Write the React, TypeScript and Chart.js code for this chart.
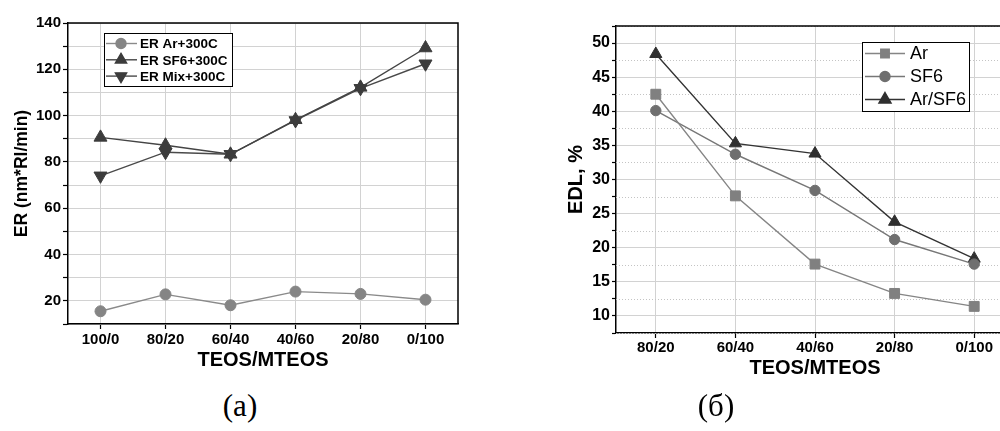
import React, { useEffect, useRef } from 'react';
import { Chart, registerables } from 'chart.js';
import { drawPoint } from 'chart.js/helpers';

Chart.register(...registerables);

// ---------- data ----------
const leftCategories = ['100/0', '80/20', '60/40', '40/60', '20/80', '0/100'];
const erAr = [15.5, 22.8, 18.1, 24.0, 23.0, 20.5];
const erSF6 = [90.6, 87.2, 83.3, 98.2, 112.2, 129.2];
const erMix = [74.0, 84.2, 83.3, 97.9, 111.8, 122.4];
const leftLabels = ['ER Ar+300C', 'ER SF6+300C', 'ER Mix+300C'];

const rightCategories = ['80/20', '60/40', '40/60', '20/80', '0/100'];
const edlAr = [42.5, 27.6, 17.6, 13.3, 11.4];
const edlSF6 = [40.1, 33.7, 28.4, 21.2, 17.6];
const edlArSF6 = [48.4, 35.3, 33.8, 23.8, 18.4];
const rightLabels = ['Ar', 'SF6', 'Ar/SF6'];

const xTitle = 'TEOS/MTEOS';
const leftYTitle = 'ER (nm*Rl/min)';
const rightYTitle = 'EDL, %';
const captions = ['(a)', '(б)'];

const SANS = "'Liberation Sans', Arial, Helvetica, sans-serif";

// ---------- plugins ----------
const framePlugin = {
  id: 'frame',
  afterDatasetsDraw(chart: any, _a: any, o: any) {
    const { ctx, chartArea } = chart;
    ctx.save();
    ctx.strokeStyle = '#000';
    ctx.lineWidth = o.width || 1.5;
    ctx.beginPath();
    ctx.moveTo(chartArea.left, chartArea.top);
    ctx.lineTo(chartArea.right, chartArea.top);
    ctx.lineTo(chartArea.right, chartArea.bottom);
    ctx.stroke();
    ctx.restore();
  },
};

const minorGridPlugin = {
  id: 'minorGrid',
  beforeDatasetsDraw(chart: any, _a: any, o: any) {
    if (!o || !o.enabled) return;
    const { ctx, chartArea } = chart;
    const ys = chart.scales.y;
    ctx.save();
    ctx.strokeStyle = o.color;
    ctx.lineWidth = 1;
    ctx.setLineDash([1, 2]);
    ys.ticks.forEach((t: any) => {
      const v = t.value;
      if (Math.abs(v / 5 - Math.round(v / 5)) > 1e-6) {
        const y = Math.round(ys.getPixelForValue(v)) + 0.5;
        ctx.beginPath();
        ctx.moveTo(chartArea.left, y);
        ctx.lineTo(chartArea.right, y);
        ctx.stroke();
      }
    });
    ctx.restore();
  },
};

const boxLegendPlugin = {
  id: 'boxLegend',
  afterDraw(chart: any, _a: any, o: any) {
    const ctx = chart.ctx;
    ctx.save();
    ctx.fillStyle = '#fff';
    ctx.fillRect(o.x, o.y, o.w, o.h);
    ctx.strokeStyle = '#000';
    ctx.lineWidth = 1;
    ctx.strokeRect(o.x + 0.5, o.y + 0.5, o.w, o.h);
    chart.data.datasets.forEach((ds: any, i: number) => {
      const cy = o.firstRow + i * o.rowGap;
      ctx.setLineDash([]);
      ctx.strokeStyle = ds.borderColor;
      ctx.lineWidth = ds.borderWidth;
      ctx.beginPath();
      ctx.moveTo(o.lineX0, cy);
      ctx.lineTo(o.lineX1, cy);
      ctx.stroke();
      ctx.fillStyle = ds.pointBackgroundColor;
      ctx.strokeStyle = ds.pointBorderColor;
      drawPoint(
        ctx,
        { pointStyle: ds.pointStyle, rotation: ds.pointRotation || 0, radius: o.markerRadius[i], borderWidth: 1 } as any,
        o.markerX,
        cy
      );
      ctx.fillStyle = '#000';
      ctx.font = o.font;
      ctx.textBaseline = 'middle';
      ctx.textAlign = 'left';
      ctx.fillText(ds.label, o.textX, cy + 1);
    });
    ctx.restore();
  },
};

function ds(label: string, data: number[], color: string, lineColor: string, style: string, radius: number, rotation = 0) {
  return {
    label,
    data,
    borderColor: lineColor,
    borderWidth: 1.4,
    backgroundColor: color,
    pointBackgroundColor: color,
    pointBorderColor: color,
    pointBorderWidth: 1,
    pointStyle: style,
    pointRadius: radius,
    pointRotation: rotation,
    tension: 0,
    fill: false,
  };
}

function LeftChart() {
  const ref = useRef<HTMLCanvasElement>(null);
  useEffect(() => {
    const chart = new Chart(ref.current!, {
      type: 'line',
      data: {
        labels: leftCategories,
        datasets: [
          ds(leftLabels[0], erAr, '#858585', '#8a8a8a', 'circle', 5.5),
          ds(leftLabels[1], erSF6, '#3c3c3c', '#444444', 'triangle', 7.5),
          ds(leftLabels[2], erMix, '#3c3c3c', '#4a4a4a', 'triangle', 7.5, 180),
        ] as any,
      },
      options: {
        responsive: false,
        animation: false,
        devicePixelRatio: 1,
        layout: { padding: { left: 0, right: 22, top: 23, bottom: 0 } },
        plugins: {
          legend: { display: false },
          tooltip: { enabled: false },
          frame: { width: 1.5 },
          boxLegend: {
            x: 104, y: 33, w: 128, h: 53,
            firstRow: 43.5, rowGap: 16.3,
            lineX0: 106, lineX1: 137, markerX: 121, textX: 140,
            markerRadius: [5, 6.5, 6.5],
            font: `bold 13.5px ${SANS}`,
          },
        } as any,
        scales: {
          x: {
            type: 'category',
            offset: true,
            grid: { offset: false, color: '#d2d2d2', lineWidth: 1, tickColor: '#000', tickLength: 5, tickWidth: 1.2 },
            border: { color: '#000', width: 1.5 },
            ticks: { color: '#000', font: { family: SANS, size: 15, weight: 'bold' }, padding: 2, maxRotation: 0, autoSkip: false },
            title: { display: true, text: xTitle, color: '#000', font: { family: SANS, size: 20, weight: 'bold' }, padding: { top: 0, bottom: 8 } },
            afterFit: (s: any) => { s.height = 56; },
          },
          y: {
            min: 10,
            max: 140,
            grid: { color: '#d2d2d2', lineWidth: 1, tickColor: '#000', tickLength: 5, tickWidth: 1.2 },
            border: { color: '#000', width: 1.5 },
            ticks: {
              stepSize: 10,
              autoSkip: false,
              color: '#000',
              padding: 2,
              font: { family: SANS, size: 15, weight: 'bold' },
              callback: (v: any) => (Math.round(v) % 20 === 0 ? String(v) : ''),
            },
            title: { display: true, text: leftYTitle, color: '#000', font: { family: SANS, size: 17.5, weight: 'bold' }, padding: { top: 12, bottom: 0 } },
            afterFit: (s: any) => { s.width = 68; },
          },
        } as any,
      },
      plugins: [framePlugin, boxLegendPlugin],
    });
    return () => chart.destroy();
  }, []);
  return <canvas ref={ref} width={480} height={380} style={{ position: 'absolute', left: 0, top: 0, width: 480, height: 380 }} />;
}

function RightChart() {
  const ref = useRef<HTMLCanvasElement>(null);
  useEffect(() => {
    const chart = new Chart(ref.current!, {
      type: 'line',
      data: {
        labels: rightCategories,
        datasets: [
          ds(rightLabels[0], edlAr, '#808080', '#858585', 'rect', 7),
          ds(rightLabels[1], edlSF6, '#6f6f6f', '#777777', 'circle', 5.2),
          ds(rightLabels[2], edlArSF6, '#2f2f2f', '#333333', 'triangle', 7),
        ] as any,
      },
      options: {
        responsive: false,
        animation: false,
        devicePixelRatio: 1,
        layout: { padding: { left: 0, right: 26, top: 26, bottom: 0 } },
        plugins: {
          legend: { display: false },
          tooltip: { enabled: false },
          frame: { width: 1.5 },
          minorGrid: { enabled: true, color: '#c4c4c4' },
          boxLegend: {
            x: 342, y: 42, w: 107, h: 69,
            firstRow: 53.5, rowGap: 23,
            lineX0: 345, lineX1: 385, markerX: 365, textX: 390,
            markerRadius: [6, 5, 7],
            font: `18px ${SANS}`,
          },
        } as any,
        scales: {
          x: {
            type: 'category',
            offset: true,
            grid: { offset: false, color: '#d2d2d2', lineWidth: 1, tickColor: '#000', tickLength: 5, tickWidth: 1.2 },
            border: { color: '#000', width: 1.5 },
            ticks: { color: '#000', font: { family: SANS, size: 15, weight: 'bold' }, padding: 1, maxRotation: 0, autoSkip: false },
            title: { display: true, text: xTitle, color: '#000', font: { family: SANS, size: 20, weight: 'bold' }, padding: { top: 0, bottom: 10 } },
            afterFit: (s: any) => { s.height = 57; },
          },
          y: {
            min: 7.5,
            max: 52.5,
            grid: {
              color: (c: any) => {
                const v = c.tick ? c.tick.value : 0;
                return Math.abs(v / 5 - Math.round(v / 5)) < 1e-6 ? '#d2d2d2' : 'rgba(0,0,0,0)';
              },
              lineWidth: 1,
              tickColor: '#000',
              tickLength: 4,
              tickWidth: 1.2,
            },
            border: { color: '#000', width: 1.5 },
            ticks: {
              stepSize: 2.5,
              autoSkip: false,
              color: '#000',
              padding: 2,
              font: { family: SANS, size: 16, weight: 'bold' },
              callback: (v: any) => (Math.abs(v / 5 - Math.round(v / 5)) < 1e-6 ? String(Math.round(v)) : ''),
            },
            title: { display: true, text: rightYTitle, color: '#000', font: { family: SANS, size: 20, weight: 'bold' }, padding: { top: 44, bottom: 0 } },
            afterFit: (s: any) => { s.width = 96; },
          },
        } as any,
      },
      plugins: [minorGridPlugin, framePlugin, boxLegendPlugin],
    });
    return () => chart.destroy();
  }, []);
  return <canvas ref={ref} width={520} height={390} style={{ position: 'absolute', left: 520, top: 0, width: 520, height: 390 }} />;
}

export default function App() {
  const capStyle = (cx: number): React.CSSProperties => ({
    position: 'absolute',
    left: cx - 50,
    top: 388,
    width: 100,
    textAlign: 'center',
    fontFamily: "'Liberation Serif', 'Times New Roman', serif",
    fontSize: 31,
    lineHeight: '36px',
    color: '#000',
  });
  return (
    <div style={{ position: 'fixed', left: 0, top: 0, width: 1000, height: 431, overflow: 'hidden', background: '#fff' }}>
      <LeftChart />
      <RightChart />
      <div style={capStyle(240)}>{captions[0]}</div>
      <div style={capStyle(716)}>{captions[1]}</div>
    </div>
  );
}
